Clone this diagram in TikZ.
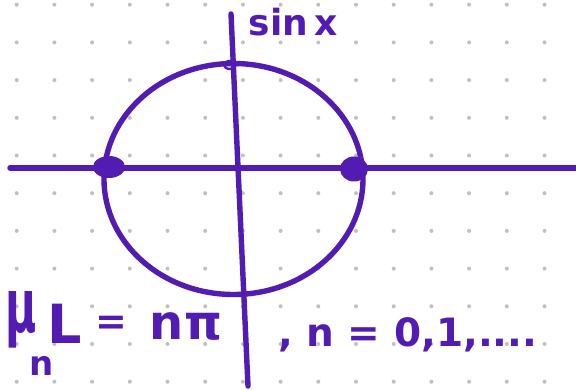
\documentclass[tikz,border=0pt]{standalone}
\usepackage{fontspec}
\usepackage{graphicx}
\setmainfont{DejaVu Sans}
\definecolor{ink}{RGB}{82,28,178}
\definecolor{griddot}{RGB}{192,192,192}
\begin{document}
\begin{tikzpicture}[x=1pt,y=-1pt,
  inkline/.style={draw=ink,line width=5.4pt,line cap=round},
  hand/.style={text=ink,inner sep=0pt,anchor=center}]
\useasboundingbox (0,0) rectangle (576,390);
\fill[white] (0,0) rectangle (576,390);
\foreach \i in {0,...,14}{\foreach \j in {0,...,10}{\fill[griddot] (16.7+37.7*\i,4.7+37.7*\j) circle (2);}}
% circle
\draw[inkline] (233.5,179) ellipse [x radius=129.5, y radius=115.5];
% axes
\coordinate (hl) at (10,168);
\coordinate (hr) at (580,168);
\coordinate (vt) at (231,14);
\coordinate (vb) at (248,386);
\draw[inkline] (hl) -- (hr);
\draw[inkline] (vt) -- (vb);
% marks
\fill[ink] (109,167) ellipse [x radius=16, y radius=11];
\fill[ink] (354,169) ellipse [x radius=14, y radius=12.5];
\draw[ink,line width=2.4pt] (230,65) ellipse [x radius=6, y radius=4];
% labels
\node[hand,font=\bfseries\fontsize{36}{36}\selectfont] (sinx) at (293,22) {sin\,x};
\node[hand,font=\bfseries\fontsize{50}{50}\selectfont] (mu) at (21,320) {\scalebox{0.85}[1.5]{μ}};
\node[hand,font=\bfseries\fontsize{34}{34}\selectfont] (sub) at (42,366) {n};
\node[hand,font=\bfseries\fontsize{54}{54}\selectfont] (L) at (65,324) {L};
\node[hand,font=\bfseries\fontsize{38}{38}\selectfont] (eq) at (111,325) {=};
\node[hand,font=\bfseries\fontsize{48}{48}\selectfont] (npi) at (186,327) {nπ};
\node[hand,font=\bfseries\fontsize{39}{39}\selectfont,anchor=west] (rest) at (278,335) {,\ n = 0,1,....};
\end{tikzpicture}
\end{document}
